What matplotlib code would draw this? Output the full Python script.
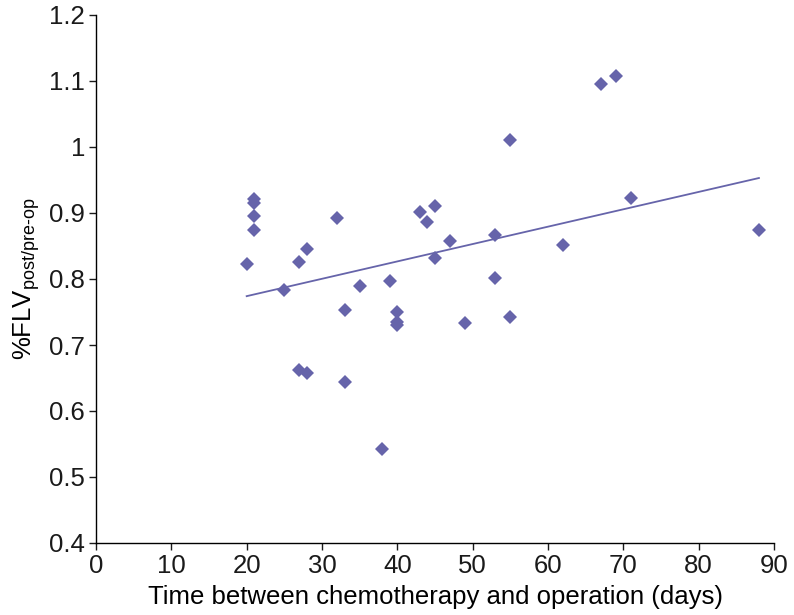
"""Scatter of %FLV change against time between chemotherapy and operation."""

import matplotlib

matplotlib.use("Agg")
import matplotlib.pyplot as plt
import numpy as np


POINT_COLOR = "#6664aa"

# days between chemotherapy and operation
days = [20, 21, 21, 21, 21, 25, 27, 28, 27, 28, 32, 33, 33, 35, 38, 39, 40, 40,
        40, 43, 44, 45, 45, 47, 49, 53, 53, 55, 55, 62, 67, 69, 71, 88]
# %FLV post/pre-op
flv_ratio = [0.822, 0.921, 0.915, 0.896, 0.875, 0.784, 0.826, 0.846, 0.662, 0.657,
             0.893, 0.753, 0.644, 0.790, 0.542, 0.797, 0.750, 0.735, 0.731, 0.902,
             0.886, 0.911, 0.832, 0.857, 0.733, 0.867, 0.801, 1.011, 0.742, 0.852,
             1.096, 1.107, 0.922, 0.875]

# regression line as drawn in the figure
trend_days = [20, 88]
trend_ratio = [0.774, 0.953]


def style() -> None:
    plt.rcParams.update(
        {
            "font.family": ["Liberation Sans", "DejaVu Sans"],
            "font.size": 18.5,
            "mathtext.fontset": "custom",
            "mathtext.rm": "Liberation Sans",
            "mathtext.it": "Liberation Sans:italic",
            "axes.spines.top": False,
            "axes.spines.right": False,
            "axes.linewidth": 1.0,
            "xtick.major.size": 5,
            "ytick.major.size": 5,
            "xtick.labelsize": 18.5,
            "ytick.labelsize": 18.5,
        }
    )


def main() -> None:
    style()
    fig = plt.figure(figsize=(7.94, 6.15), dpi=100)
    ax = fig.add_axes([96 / 794, 1 - 543 / 615, 678 / 794, 528 / 615])

    ax.plot(trend_days, trend_ratio, color=POINT_COLOR, lw=1.3, zorder=2)
    ax.plot(days, flv_ratio, linestyle="none", marker="D", ms=7.4,
            color=POINT_COLOR, markeredgewidth=0, zorder=3)

    ax.set_xlim(0, 90)
    ax.set_ylim(0.4, 1.2)
    ax.set_xticks(np.arange(0, 91, 10))
    ax.set_yticks(np.round(np.arange(0.4, 1.21, 0.1), 1))
    ax.set_yticklabels(["0.4", "0.5", "0.6", "0.7", "0.8", "0.9", "1", "1.1", "1.2"])
    ax.tick_params(colors="#1a1a1a", width=1.0, pad=3)

    ax.set_xlabel("Time between chemotherapy and operation (days)", labelpad=5)
    ax.set_ylabel(r"%FLV$_{\mathregular{post/pre\text{-}op}}$", labelpad=5)

    fig.savefig("out.png", dpi=100)
    plt.close(fig)


if __name__ == "__main__":
    main()
